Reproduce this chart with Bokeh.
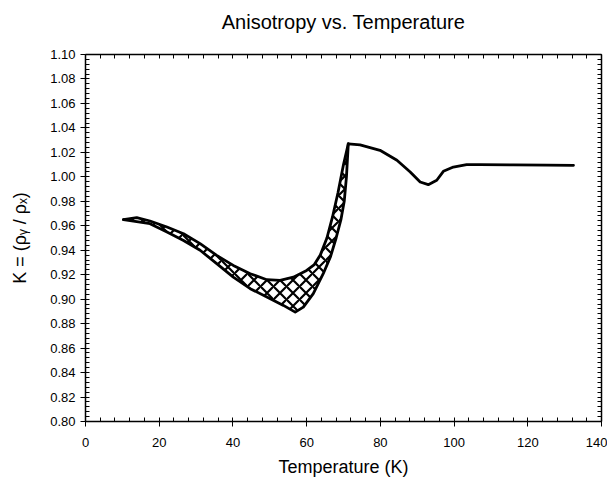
import math
from bokeh.plotting import figure
from bokeh.models import (Range1d, LinearAxis, SingleIntervalTicker, PrintfTickFormatter,
                          CustomJSTickFormatter)
from bokeh.embed import file_html
from bokeh.resources import INLINE

# ---- data ----
upper_T = [10.3, 13.9, 17.5, 22.1, 26.6, 31.1, 35.6, 40.1, 44.7, 49.2, 52.8, 56.4, 60.0, 62.0, 63.7, 65.5, 67.0, 68.5, 70.0, 71.3]
upper_K = [0.965, 0.9667, 0.9639, 0.959, 0.9535, 0.9454, 0.9358, 0.9276, 0.9208, 0.9159, 0.9154, 0.918, 0.9235, 0.928, 0.936, 0.950, 0.967, 0.987, 1.010, 1.027]

lower_T = [10.3, 17.5, 22.1, 26.6, 31.1, 35.6, 40.1, 44.7, 49.2, 53.7, 56.9, 59.1, 61.8, 64.5, 66.5, 68.0, 69.3, 70.2, 70.8, 71.3]
lower_K = [0.965, 0.9617, 0.9549, 0.948, 0.940, 0.929, 0.918, 0.9086, 0.9017, 0.8949, 0.8894, 0.8935, 0.9045, 0.9208, 0.935, 0.950, 0.965, 0.980, 1.000, 1.027]

tail_T = [71.3, 74.5, 79.9, 84.5, 88.1, 90.8, 93.0, 95.3, 97.1, 99.8, 103.4, 107.1, 116.1, 125.1, 132.4]
tail_K = [1.027, 1.0262, 1.0217, 1.0135, 1.004, 0.9958, 0.9936, 0.9972, 1.0045, 1.008, 1.0100, 1.0100, 1.0098, 1.0096, 1.0094]

x_ticks_interval = 20
y_ticks_interval = 0.02

FONT = "Liberation Sans"

p = figure(width=607, height=480, output_backend="svg", toolbar_location=None,
           x_range=Range1d(0, 140), y_range=Range1d(0.80, 1.10),
           x_axis_location=None, y_axis_location=None,
           min_border_left=85, min_border_right=6, min_border_top=54, min_border_bottom=59)
p.grid.visible = False
p.outline_line_color = None
p.background_fill_color = "white"
p.border_fill_color = "white"

p.title.text = "Anisotropy vs. Temperature"
p.title.align = "center"
p.title.text_font = FONT
p.title.text_font_size = "20px"
p.title.text_font_style = "normal"
p.title.text_color = "black"
p.title.standoff = 0


def style(ax, labels=True, out=5):
    ax.axis_line_width = 1.5
    ax.axis_line_color = "black"
    ax.major_tick_line_color = "black"
    ax.minor_tick_line_color = "black"
    ax.major_tick_in = 0
    ax.major_tick_out = out
    ax.minor_tick_in = 4
    ax.minor_tick_out = 0
    ax.major_label_text_font = FONT
    ax.major_label_text_font_size = "13px"
    ax.major_label_text_color = "black"
    if not labels:
        ax.formatter = CustomJSTickFormatter(code="return ''")
        ax.major_label_text_font_size = "0px"
        ax.major_label_standoff = 0


xb = LinearAxis(ticker=SingleIntervalTicker(interval=x_ticks_interval, num_minor_ticks=5))
style(xb)
xb.axis_label = "Temperature (K)"
xb.axis_label_text_font = FONT
xb.axis_label_text_font_size = "18px"
xb.axis_label_text_font_style = "normal"
xb.axis_label_text_color = "black"
xb.major_label_standoff = 11
xb.axis_label_standoff = 7
p.add_layout(xb, "below")

# top frame axis: minor ticks inside only; invisible outward major ticks give the title room
xt = LinearAxis(ticker=SingleIntervalTicker(interval=x_ticks_interval, num_minor_ticks=5))
style(xt, labels=False, out=22)
xt.major_tick_line_color = None
p.add_layout(xt, "above")

yl = LinearAxis(ticker=SingleIntervalTicker(interval=y_ticks_interval, num_minor_ticks=5),
                formatter=PrintfTickFormatter(format="%.2f"))
style(yl)
yl.major_label_standoff = 5
yl.axis_label = "K = (\u03c1\u1d67 / \u03c1\u2093)"
yl.axis_label_text_font = FONT
yl.axis_label_text_font_size = "18px"
yl.axis_label_text_font_style = "normal"
yl.axis_label_text_color = "black"
yl.axis_label_standoff = 17
p.add_layout(yl, "left")

yr = LinearAxis(ticker=SingleIntervalTicker(interval=y_ticks_interval, num_minor_ticks=5))
style(yr, labels=False, out=0)
p.add_layout(yr, "right")

# hatched band between the two curves
band_x = upper_T + lower_T[::-1]
band_y = upper_K + lower_K[::-1]
p.patch(band_x, band_y, fill_color=None, line_color=None,
        hatch_pattern="x", hatch_color="black", hatch_weight=2.2, hatch_scale=13)

for xs, ys in ((upper_T, upper_K), (lower_T, lower_K), (tail_T, tail_K)):
    p.line(xs, ys, line_color="black", line_width=2.8, line_join="round", line_cap="round")

open("out.html", "w").write(file_html(p, INLINE))
